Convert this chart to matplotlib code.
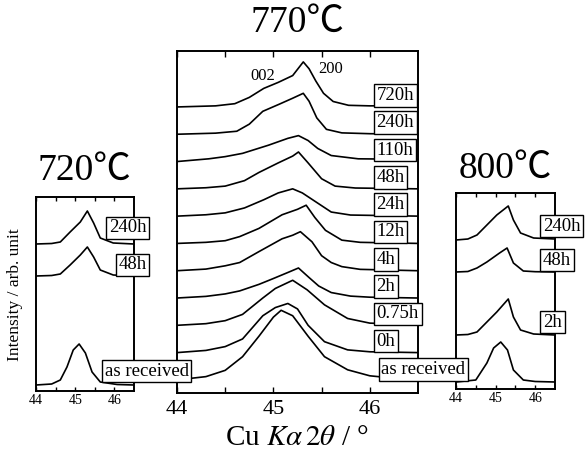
import matplotlib
matplotlib.use('Agg')
import matplotlib.pyplot as plt

plt.rcParams['font.family'] = ['Liberation Serif', 'Noto Sans CJK JP', 'DejaVu Sans']
plt.rcParams['mathtext.fontset'] = 'stix'

# 770 C panel, bottom to top
labels_770 = ['as received', '0h', '0.75h', '2h', '4h', '12h', '24h', '48h', '110h', '240h', '720h']
offsets_770 = [0, 1, 2, 3, 4, 5, 6, 7, 8, 9, 10]
x_770 = [
    [44.0, 44.3, 44.5, 44.68, 44.85, 45.0, 45.08, 45.2, 45.36, 45.53, 45.77, 46.0, 46.23, 46.5],
    [44.0, 44.3, 44.5, 44.68, 44.89, 45.02, 45.15, 45.25, 45.36, 45.53, 45.77, 46.0, 46.5],
    [44.0, 44.3, 44.5, 44.68, 44.89, 45.02, 45.2, 45.35, 45.53, 45.77, 46.0, 46.5],
    [44.0, 44.3, 44.5, 44.65, 44.85, 44.99, 45.16, 45.26, 45.37, 45.47, 45.6, 45.8, 46.0, 46.5],
    [44.0, 44.3, 44.5, 44.65, 44.85, 45.09, 45.2, 45.28, 45.4, 45.5, 45.6, 45.71, 45.9, 46.5],
    [44.0, 44.3, 44.5, 44.65, 44.85, 45.09, 45.25, 45.34, 45.43, 45.54, 45.71, 45.9, 46.5],
    [44.0, 44.3, 44.5, 44.7, 44.9, 45.05, 45.2, 45.3, 45.45, 45.6, 45.8, 46.5],
    [44.0, 44.3, 44.5, 44.7, 44.85, 45.05, 45.2, 45.26, 45.36, 45.5, 45.64, 45.85, 46.5],
    [44.0, 44.33, 44.5, 44.68, 44.95, 45.15, 45.26, 45.36, 45.46, 45.6, 45.88, 46.5],
    [44.0, 44.4, 44.62, 44.75, 44.89, 45.06, 45.2, 45.31, 45.37, 45.45, 45.55, 45.71, 46.0, 46.5],
    [44.0, 44.4, 44.6, 44.75, 44.9, 45.05, 45.2, 45.31, 45.37, 45.44, 45.52, 45.62, 45.78, 46.0, 46.5],
]
y_770 = [
    [0.0, 0.12, 0.35, 0.85, 1.6, 2.3, 2.55, 2.35, 1.6, 0.85, 0.37, 0.15, 0.07, 0.02],
    [0.0, 0.08, 0.22, 0.5, 1.35, 1.65, 1.8, 1.6, 1.0, 0.4, 0.1, 0.03, 0.0],
    [0.0, 0.06, 0.17, 0.4, 1.0, 1.35, 1.65, 1.3, 0.75, 0.25, 0.08, 0.02],
    [0.0, 0.06, 0.15, 0.26, 0.5, 0.7, 0.95, 1.1, 0.75, 0.44, 0.2, 0.07, 0.03, 0.0],
    [0.0, 0.06, 0.18, 0.3, 0.7, 1.17, 1.3, 1.43, 1.06, 0.55, 0.3, 0.15, 0.05, 0.0],
    [0.0, 0.04, 0.1, 0.25, 0.55, 1.05, 1.25, 1.4, 0.95, 0.48, 0.12, 0.04, 0.0],
    [0.0, 0.05, 0.12, 0.3, 0.6, 0.85, 1.0, 0.85, 0.5, 0.15, 0.04, 0.0],
    [0.0, 0.04, 0.1, 0.3, 0.6, 0.95, 1.2, 1.35, 0.95, 0.37, 0.1, 0.03, 0.0],
    [0.0, 0.1, 0.18, 0.3, 0.6, 0.85, 0.95, 0.77, 0.48, 0.22, 0.1, 0.08],
    [0.0, 0.04, 0.11, 0.37, 0.84, 1.1, 1.32, 1.5, 1.21, 0.6, 0.18, 0.05, 0.02, 0.0],
    [0.0, 0.04, 0.12, 0.35, 0.68, 0.9, 1.15, 1.65, 1.4, 0.95, 0.5, 0.2, 0.06, 0.04, 0.05],
]

# 720 C panel
labels_720 = ['as received', '48h', '240h']
offsets_720 = [0.6, 11.5, 14.7]
x_720 = [
    [44.0, 44.4, 44.62, 44.79, 44.95, 45.1, 45.26, 45.43, 45.64, 46.07, 46.5],
    [44.0, 44.4, 44.62, 44.87, 45.13, 45.31, 45.47, 45.64, 45.97, 46.5],
    [44.0, 44.4, 44.62, 44.87, 45.13, 45.31, 45.47, 45.64, 45.97, 46.5],
]
y_720 = [
    [0.0, 0.1, 0.5, 1.8, 3.5, 4.1, 3.2, 1.3, 0.3, 0.05, 0.0],
    [0.0, 0.05, 0.2, 1.1, 2.1, 2.9, 1.9, 0.6, 0.1, 0.0],
    [0.0, 0.05, 0.2, 1.2, 2.2, 3.3, 2.1, 0.6, 0.1, 0.0],
]

# 800 C panel
labels_800 = ['as received', '2h', '48h', '240h']
offsets_800 = [0.7, 5.4, 11.7, 14.9]
x_800 = [
    [44.0, 44.5, 44.78, 44.95, 45.13, 45.3, 45.45, 45.7, 46.0, 46.5],
    [44.0, 44.3, 44.53, 44.78, 45.03, 45.32, 45.45, 45.63, 45.96, 46.5],
    [44.0, 44.3, 44.53, 44.78, 45.1, 45.29, 45.45, 45.7, 46.0, 46.5],
    [44.0, 44.3, 44.53, 44.78, 45.03, 45.32, 45.45, 45.63, 45.96, 46.5],
]
y_800 = [
    [0.0, 0.2, 1.9, 3.4, 4.0, 3.2, 1.2, 0.2, 0.05, 0.0],
    [0.0, 0.05, 0.3, 1.3, 2.3, 3.6, 1.8, 0.5, 0.1, 0.0],
    [0.0, 0.05, 0.4, 1.0, 1.9, 2.4, 0.9, 0.1, 0.03, 0.0],
    [0.0, 0.1, 0.5, 1.5, 2.5, 3.4, 2.0, 0.7, 0.2, 0.1],
]

W, H = 586, 457
fig = plt.figure(figsize=(W / 100, H / 100), dpi=100)


def px_axes(l, t, r, b):
    return fig.add_axes([l / W, 1 - b / H, (r - l) / W, (b - t) / H])


ax1 = px_axes(36, 197, 134, 391)
ax2 = px_axes(177, 51, 418, 393)
ax3 = px_axes(456, 193, 555, 389)

box = dict(boxstyle='square,pad=0.15', fc='white', ec='black', lw=1)

for ax, xs, ys, offs, ylim, big in [(ax1, x_720, y_720, offsets_720, (0, 19.4), False),
                                     (ax2, x_770, y_770, offsets_770, (-0.48, 12.05), True),
                                     (ax3, x_800, y_800, offsets_800, (0, 19.6), False)]:
    for x, y, o in zip(xs, ys, offs):
        ax.plot(x, [v + o for v in y], color='black', lw=1.2)
    ax.set_xlim(44, 46.5)
    ax.set_ylim(*ylim)
    ax.set_yticks([])
    ax.set_xticks([44, 45, 46])
    ax.set_xticks([44.5, 45.5], minor=True)
    ax.tick_params(which='both', direction='in', top=True, length=4 if big else 3, width=1)
    ax.tick_params(axis='x', labelsize=16 if big else 10, pad=5 if big else 2)
    for s in ax.spines.values():
        s.set_linewidth(1.4)

fs = 13.5
# labels 770
for lab, o in zip(labels_770[1:], offsets_770[1:]):
    fig.text(46.07, o + 0.42, lab, transform=ax2.transData, fontsize=fs,
             ha='left', va='center', bbox=box)
fig.text(46.12, 0.37, 'as received', transform=ax2.transData, fontsize=fs,
         ha='left', va='center', bbox=box)
fig.text(44.89, 11.12, '002', transform=ax2.transData, fontsize=12, ha='center', va='center')
fig.text(45.59, 11.4, '200', transform=ax2.transData, fontsize=12, ha='center', va='center')

# labels 720
fig.text(46.82, 16.3, '240h', transform=ax1.transData, fontsize=fs, ha='right', va='center', bbox=box)
fig.text(46.82, 12.6, '48h', transform=ax1.transData, fontsize=fs, ha='right', va='center', bbox=box)
fig.text(45.75, 2.0, 'as received', transform=ax1.transData, fontsize=fs, ha='left', va='center', bbox=box)

# labels 800
fig.text(46.2, 16.3, '240h', transform=ax3.transData, fontsize=fs, ha='left', va='center', bbox=box)
fig.text(46.2, 12.9, '48h', transform=ax3.transData, fontsize=fs, ha='left', va='center', bbox=box)
fig.text(46.2, 6.7, '2h', transform=ax3.transData, fontsize=fs, ha='left', va='center', bbox=box)

# titles and axis labels
fig.text(84 / W, 1 - 171 / H, '720℃', fontsize=27, ha='center', va='center')
fig.text(297 / W, 1 - 23 / H, '770℃', fontsize=27, ha='center', va='center')
fig.text(505 / W, 1 - 169 / H, '800℃', fontsize=27, ha='center', va='center')
fig.text(15 / W, 1 - 295 / H, 'Intensity / arb. unit', fontsize=12.5, rotation=90,
         ha='center', va='center')
fig.text(297 / W, 1 - 438 / H, r'Cu $K\alpha\,2\theta$ / °', fontsize=21, ha='center', va='center')

fig.savefig('out.png', dpi=100)
